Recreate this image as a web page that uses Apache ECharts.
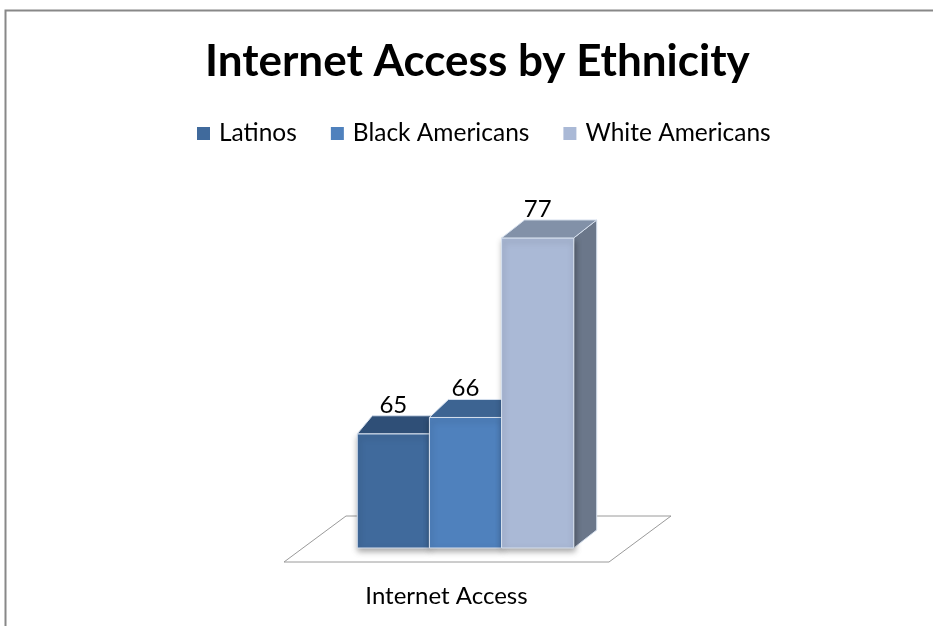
<!DOCTYPE html>
<html>
<head>
<meta charset="utf-8">
<title>Internet Access by Ethnicity</title>
<script src="https://cdn.jsdelivr.net/npm/echarts@6/dist/echarts.min.js"></script>
<style>
  html, body { margin: 0; padding: 0; background: #ffffff; }
  #chart { width: 933px; height: 626px; }
</style>
</head>
<body>
<div id="chart"></div>
<script>
// Survey figures: share of people with internet access, by group
const categories = ['Internet Access'];
const seriesNames = ['Latinos', 'Black Americans', 'White Americans'];
const values = [65, 66, 77];

// Face colours for each box: front, top, side
const frontColors = ['#406A9C', '#4F81BD', '#AAB9D6'];
const topColors = ['#2F4F77', '#3D6492', '#8291A8'];
const sideColors = ['#2B4A70', '#3A5F8C', '#6B778A'];

// Hidden value range of the 3D plot
const Y_MIN = 58;
const Y_MAX = 80;

const FONT = 'Lato, "Open Sans", "DejaVu Sans", sans-serif';
const EDGE = '#D6E0EE';

// Floor and depth geometry
const FLOOR_BACK_DX = 62;   // horizontal shift of the floor's back edge
const FLOOR_FRONT_DY = 14;  // floor front edge below the bar base
const FLOOR_BACK_DY = 32;   // floor back edge above the bar base
const BAR_SHIFT = 19;       // bars stand part-way into the floor
const BAR_RATIO = 0.222;    // bar width as a share of the category band
const DEPTH_DY = 18;
const DEPTH_DX = [15, 19, 23];

function renderFloor(params, api) {
  const base = api.coord([api.value(0), Y_MIN]);
  const band = api.size([1, 0])[0];
  const l = base[0] - band / 2, r = base[0] + band / 2;
  const yf = base[1] + FLOOR_FRONT_DY, yb = base[1] - FLOOR_BACK_DY;
  return {
    type: 'polygon',
    shape: { points: [[l, yf], [r, yf], [r + FLOOR_BACK_DX, yb], [l + FLOOR_BACK_DX, yb]] },
    style: { fill: '#ffffff', stroke: '#9a9a9a', lineWidth: 1 },
    silent: true
  };
}

function makeBarRenderer(k) {
  return function (params, api) {
    const cat = api.value(0);
    const v = api.value(1);
    const band = api.size([1, 0])[0];
    const w = band * BAR_RATIO;
    const base = api.coord([cat, Y_MIN]);
    const top = api.coord([cat, v]);
    const cx = base[0] + BAR_SHIFT + (k - 1) * w;
    const x0 = cx - w / 2, x1 = cx + w / 2;
    const yb = base[1], yt = top[1];
    const dx = DEPTH_DX[k], dy = DEPTH_DY;
    return {
      type: 'group',
      children: [
        {
          type: 'polygon',
          shape: { points: [[x1, yb], [x1 + dx, yb - dy], [x1 + dx, yt - dy], [x1, yt]] },
          style: { fill: sideColors[k], stroke: EDGE, lineWidth: 1 }
        },
        {
          type: 'rect',
          shape: { x: x0, y: yt, width: w, height: yb - yt },
          style: {
            fill: frontColors[k], stroke: EDGE, lineWidth: 1,
            shadowColor: 'rgba(0,0,0,0.35)', shadowBlur: 6, shadowOffsetY: 3, shadowOffsetX: 1
          }
        },
        {
          type: 'polygon',
          shape: { points: [[x0, yt], [x1, yt], [x1 + dx, yt - dy], [x0 + dx, yt - dy]] },
          style: { fill: topColors[k], stroke: EDGE, lineWidth: 1 }
        },
        {
          type: 'text',
          style: {
            x: cx, y: yt - dy + 1, text: String(v),
            textAlign: 'center', textVerticalAlign: 'bottom',
            fill: '#000000', font: '24px ' + FONT
          }
        }
      ]
    };
  };
}

const series = [{
  type: 'custom',
  name: 'floor',
  renderItem: renderFloor,
  data: categories.map((c, i) => [i]),
  silent: true,
  z: 1
}];
seriesNames.forEach((name, k) => {
  series.push({
    type: 'custom',
    name: name,
    renderItem: makeBarRenderer(k),
    itemStyle: { color: frontColors[k] },
    data: [[0, values[k]]],
    encode: { x: 0, y: 1 },
    z: 2 + k
  });
});

const chart = echarts.init(document.getElementById('chart'), null, { renderer: 'canvas' });
chart.setOption({
  animation: false,
  backgroundColor: '#ffffff',
  title: {
    text: 'Internet Access by Ethnicity',
    left: 200,
    top: 35,
    textStyle: { fontFamily: FONT, fontSize: 44, fontWeight: 'bold', color: '#000000' }
  },
  legend: {
    data: seriesNames,
    left: 192,
    top: 116,
    icon: 'rect',
    itemWidth: 13,
    itemHeight: 13,
    itemGap: 34,
    textStyle: { fontFamily: FONT, fontSize: 24.5, color: '#000000', padding: [0, 0, 0, 4] }
  },
  grid: { left: 284, right: 324, top: 189, bottom: 78 },
  xAxis: {
    type: 'category',
    data: categories,
    axisLine: { show: false },
    axisTick: { show: false },
    axisLabel: { margin: 36, fontFamily: FONT, fontSize: 24, color: '#000000' }
  },
  yAxis: {
    type: 'value',
    min: Y_MIN,
    max: Y_MAX,
    show: false
  },
  graphic: [{
    // frame: left and top edges of the chart area
    type: 'polyline',
    shape: { points: [[5.5, 640], [5.5, 10.5], [945, 10.5]] },
    style: { fill: null, stroke: '#888888', lineWidth: 2 },
    silent: true,
    z: 100
  }],
  series: series
});
</script>
</body>
</html>
